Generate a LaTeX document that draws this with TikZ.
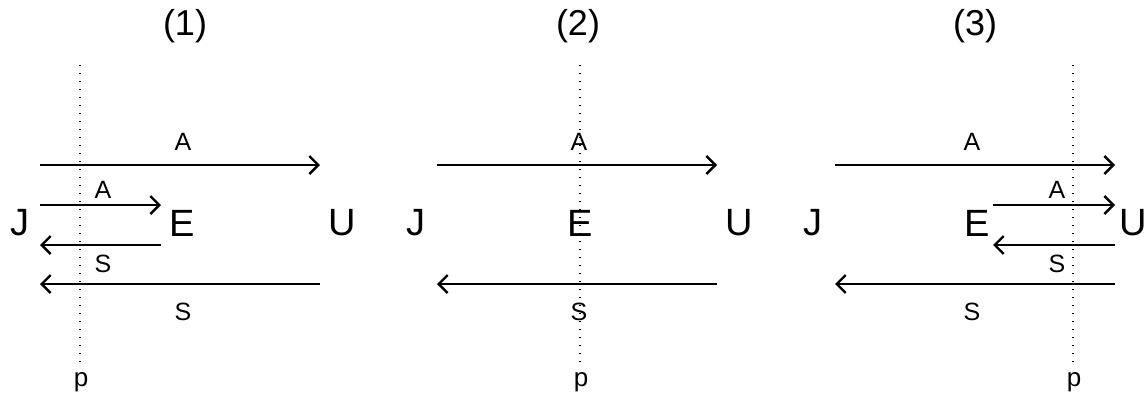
\documentclass[tikz,border=0pt]{standalone}
\usepackage{fontspec}
\setmainfont{Liberation Sans}
\usetikzlibrary{arrows.meta}
\begin{document}
\begin{tikzpicture}[x=1pt,y=-1pt,
  big/.style={inner sep=0pt,font=\fontsize{38}{40}\selectfont},
  ttl/.style={inner sep=0pt,font=\fontsize{36}{40}\selectfont},
  lbl/.style={inner sep=0pt,font=\fontsize{25}{28}\selectfont},
  plbl/.style={inner sep=0pt,font=\fontsize{26}{28}\selectfont},
  arr/.style={line width=2.4pt,-{Straight Barb[length=9pt,width=18pt,line width=2.4pt]}},
  dots/.style={line width=1.2pt,dash pattern=on 1.2pt off 6.8pt}]
\useasboundingbox (0,0) rectangle (1147,400);
% ---------- panel 1 ----------
\node[ttl] (t1) at (185,26) {(1)};
\node[big] (J1) at (19.5,223) {J};
\node[big] (E1) at (182.5,223) {E};
\node[big] (U1) at (342,223) {U};
\coordinate (d1a) at (80,65);
\coordinate (d1b) at (80,363);
\draw[dots] (d1a) -- (d1b);
\node[plbl] (p1) at (81,382) {p};
\coordinate (a1s) at (40,165); \coordinate (a1e) at (320,165);
\coordinate (b1s) at (40,205); \coordinate (b1e) at (161,205);
\coordinate (c1s) at (161,245); \coordinate (c1e) at (40,245);
\coordinate (s1s) at (320,284); \coordinate (s1e) at (40,284);
\draw[arr] (a1s) -- (a1e);
\draw[arr] (b1s) -- (b1e);
\draw[arr] (c1s) -- (c1e);
\draw[arr] (s1s) -- (s1e);
\node[lbl] (la1) at (183,141.5) {A};
\node[lbl] (lb1) at (103,190) {A};
\node[lbl] (lc1) at (103,264) {S};
\node[lbl] (ls1) at (183,312) {S};
% ---------- panel 2 ----------
\node[ttl] (t2) at (578,26) {(2)};
\node[big] (J2) at (416,223) {J};
\node[big] (E2) at (580,223) {E};
\node[big] (U2) at (739,223) {U};
\coordinate (d2a) at (580,65);
\coordinate (d2b) at (580,363);
\draw[dots] (d2a) -- (d2b);
\node[plbl] (p2) at (581,382) {p};
\coordinate (a2s) at (437,165); \coordinate (a2e) at (717,165);
\coordinate (s2s) at (717,284); \coordinate (s2e) at (437,284);
\draw[arr] (a2s) -- (a2e);
\draw[arr] (s2s) -- (s2e);
\node[lbl] (la2) at (579,141.5) {A};
\node[lbl] (ls2) at (579,312) {S};
% ---------- panel 3 ----------
\node[ttl] (t3) at (975,26) {(3)};
\node[big] (J3) at (813,223) {J};
\node[big] (E3) at (977,223) {E};
\node[big] (U3) at (1133,223) {U};
\coordinate (d3a) at (1073,65);
\coordinate (d3b) at (1073,363);
\draw[dots] (d3a) -- (d3b);
\node[plbl] (p3) at (1074,382) {p};
\coordinate (a3s) at (835,165); \coordinate (a3e) at (1115,165);
\coordinate (b3s) at (993,205); \coordinate (b3e) at (1115,205);
\coordinate (c3s) at (1115,245); \coordinate (c3e) at (993,245);
\coordinate (s3s) at (1115,284); \coordinate (s3e) at (835,284);
\draw[arr] (a3s) -- (a3e);
\draw[arr] (b3s) -- (b3e);
\draw[arr] (c3s) -- (c3e);
\draw[arr] (s3s) -- (s3e);
\node[lbl] (la3) at (972,141.5) {A};
\node[lbl] (lb3) at (1057,190) {A};
\node[lbl] (lc3) at (1057,264) {S};
\node[lbl] (ls3) at (972,312) {S};
\end{tikzpicture}
\end{document}
